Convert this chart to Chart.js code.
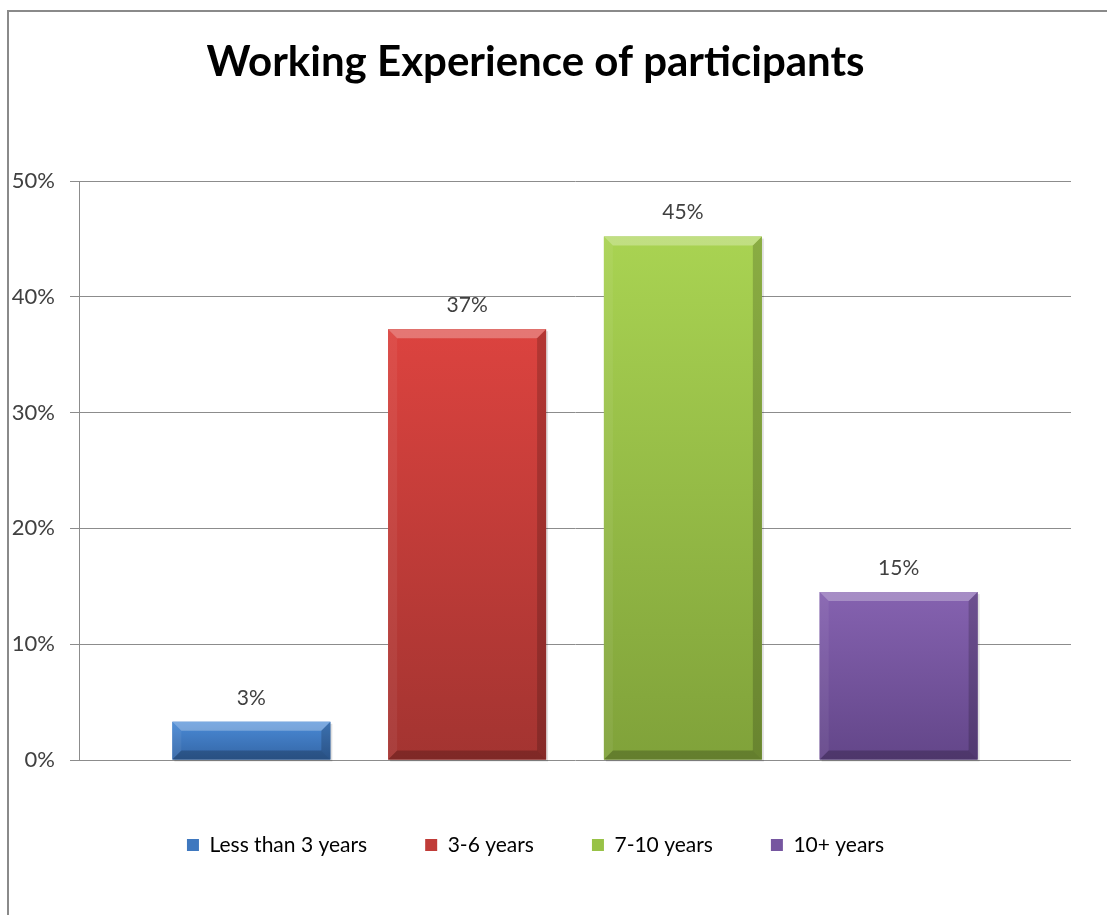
<!DOCTYPE html>
<html>
<head>
<meta charset="utf-8">
<script src="https://cdn.jsdelivr.net/npm/chart.js@4.4.1/dist/chart.umd.min.js"></script>
<style>
  html, body { margin: 0; padding: 0; background: #fff; overflow: hidden; }
  #wrap { position: relative; width: 1107px; height: 915px; }
  #frame { position: absolute; left: 7px; top: 10px; width: 1200px; height: 1000px;
           border-left: 2px solid #8a8a8a; border-top: 2px solid #8a8a8a; }
  canvas { position: absolute; left: 0; top: 0; }
</style>
</head>
<body>
<div id="wrap">
  <div id="frame"></div>
  <canvas id="chart" width="1107" height="915"></canvas>
</div>
<script>
// chart data
const categories = ['Less than 3 years', '3-6 years', '7-10 years', '10+ years'];
const values = [3.3, 37.2, 45.2, 14.5];
const valueLabels = ['3%', '37%', '45%', '15%'];
const yTicks = [0, 10, 20, 30, 40, 50];

// colours: [base, top of gradient, bottom of gradient]
const colors = [
  ['#3f78bf', '#4a8ad6', '#3466a6'],
  ['#c03c38', '#dc433f', '#a33431'],
  ['#98c247', '#a9d352', '#80a23a'],
  ['#7656a0', '#8562b0', '#634689']
];

const FONT = 'Lato, "Open Sans", sans-serif';

// paints each bar with a gradient and an Excel-like bevel
const bevelPlugin = {
  id: 'bevel',
  afterDatasetsDraw(chart) {
    const ctx = chart.ctx;
    chart.data.datasets.forEach((ds, i) => {
      const meta = chart.getDatasetMeta(i);
      meta.data.forEach(bar => {
        const { x, y, base, width } = bar.getProps(['x', 'y', 'base', 'width'], true);
        const l = x - width / 2, r = x + width / 2;
        const h = base - y;
        const b = Math.min(9, h / 2);
        ctx.save();
        // soft shadow
        ctx.fillStyle = 'rgba(0,0,0,0.12)';
        ctx.fillRect(l + 2, y + 2, width, h);
        const g = ctx.createLinearGradient(0, y, 0, base);
        g.addColorStop(0, colors[i][1]);
        g.addColorStop(1, colors[i][2]);
        ctx.fillStyle = g;
        ctx.fillRect(l, y, width, h);
        // top bevel
        ctx.fillStyle = 'rgba(255,255,255,0.28)';
        ctx.beginPath();
        ctx.moveTo(l, y); ctx.lineTo(r, y); ctx.lineTo(r - b, y + b); ctx.lineTo(l + b, y + b);
        ctx.closePath(); ctx.fill();
        // left bevel
        ctx.fillStyle = 'rgba(255,255,255,0.06)';
        ctx.beginPath();
        ctx.moveTo(l, y); ctx.lineTo(l + b, y + b); ctx.lineTo(l + b, base - b); ctx.lineTo(l, base);
        ctx.closePath(); ctx.fill();
        // right bevel
        ctx.fillStyle = 'rgba(0,0,0,0.18)';
        ctx.beginPath();
        ctx.moveTo(r, y); ctx.lineTo(r - b, y + b); ctx.lineTo(r - b, base - b); ctx.lineTo(r, base);
        ctx.closePath(); ctx.fill();
        // bottom bevel
        ctx.fillStyle = 'rgba(0,0,0,0.22)';
        ctx.beginPath();
        ctx.moveTo(l, base); ctx.lineTo(l + b, base - b); ctx.lineTo(r - b, base - b); ctx.lineTo(r, base);
        ctx.closePath(); ctx.fill();
        ctx.restore();
      });
    });
  }
};

// value labels above the bars
const valueLabelPlugin = {
  id: 'valueLabels',
  afterDatasetsDraw(chart) {
    const ctx = chart.ctx;
    ctx.save();
    ctx.font = '21px ' + FONT;
    ctx.fillStyle = '#404040';
    ctx.textAlign = 'center';
    ctx.textBaseline = 'middle';
    chart.data.datasets.forEach((ds, i) => {
      const bar = chart.getDatasetMeta(i).data[0];
      ctx.fillText(valueLabels[i], bar.x, bar.y - 24);
    });
    ctx.restore();
  }
};

const datasets = categories.map((name, i) => ({
  label: name,
  data: [values[i]],
  backgroundColor: colors[i][0],
  borderWidth: 0,
  categoryPercentage: 0.87,
  barPercentage: 0.732
}));

new Chart(document.getElementById('chart'), {
  type: 'bar',
  data: { labels: [''], datasets },
  options: {
    responsive: false,
    animation: false,
    layout: { padding: { left: 0, right: 36, top: 0, bottom: 49.5 } },
    plugins: {
      title: {
        display: true,
        text: 'Working Experience of participants',
        color: '#000',
        font: { family: FONT, size: 42, weight: 'bold' },
        padding: { top: 37, bottom: 93.6 }
      },
      legend: {
        position: 'bottom',
        labels: {
          color: '#000',
          font: { family: FONT, size: 21 },
          boxWidth: 12,
          boxHeight: 12,
          padding: 58
        }
      },
      tooltip: { enabled: false }
    },
    scales: {
      x: {
        ticks: { display: false },
        grid: { display: false },
        border: { display: false },
        afterFit(s) { s.height = 16.5; }
      },
      y: {
        min: yTicks[0],
        max: yTicks[yTicks.length - 1],
        ticks: {
          stepSize: 10,
          padding: 15,
          color: '#404040',
          font: { family: FONT, size: 22 },
          callback: v => v + '%'
        },
        grid: { color: '#8c8c8c', lineWidth: 1, tickLength: 9 },
        border: { display: true, color: '#8c8c8c' },
        afterFit(s) { s.width = 79; }
      }
    }
  },
  plugins: [bevelPlugin, valueLabelPlugin]
});
</script>
</body>
</html>
